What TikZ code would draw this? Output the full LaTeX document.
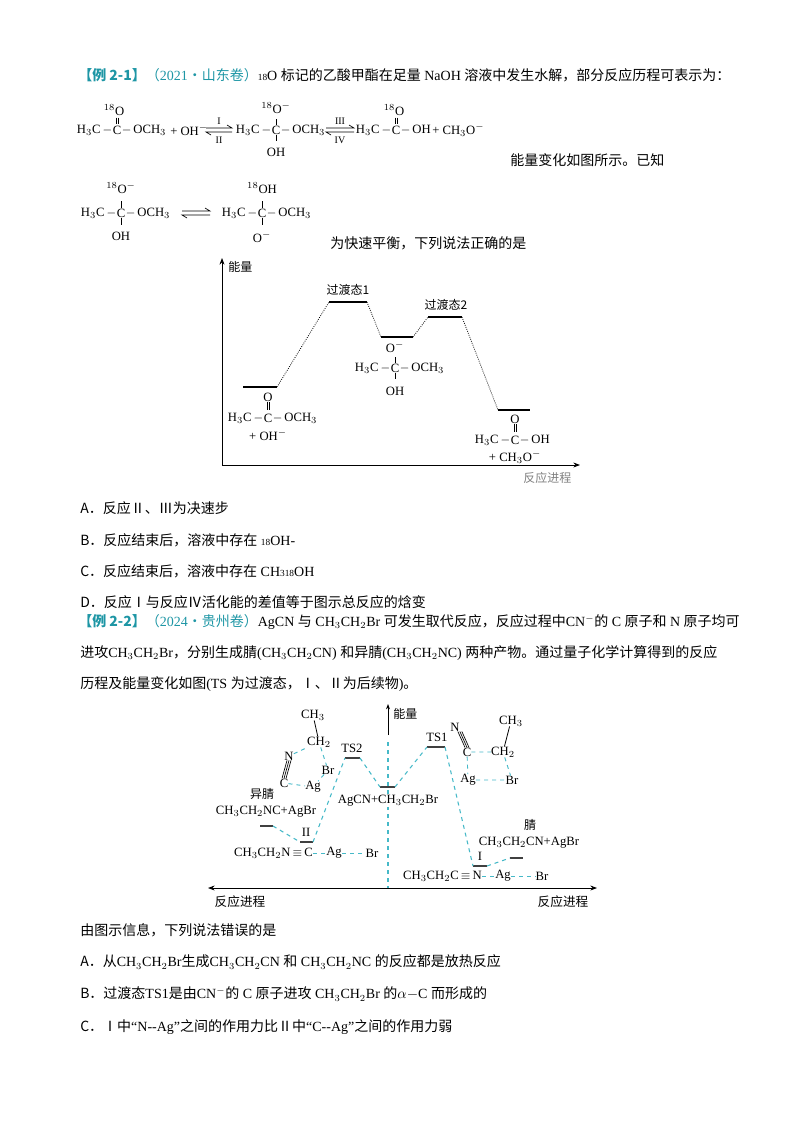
\documentclass[tikz,border=0pt]{standalone}
\usepackage{fontspec}
\setmainfont{Liberation Serif}
\newfontfamily\cjk{Noto Sans CJK SC}
\usetikzlibrary{calc,arrows.meta}
\definecolor{hdr}{RGB}{30,150,165}
\definecolor{dsh}{RGB}{70,185,200}
\newcommand\z[1]{{\cjk #1}}
\newcommand\sbs[1]{$_{#1}$}
\newcommand\chemC[5]{%
 \node[ch] (#1) at (#2) {C};
 \node[ch,anchor=east] (#1l) at (#1.west) {#3\,$-$};
 \node[ch,anchor=west] (#1r) at (#1.east) {$-$\,#4};
 \node[ch] (#1t) at ($(#1)+(0,-#5)$) {};
}
\begin{document}
\begin{tikzpicture}[x=0.75pt,y=-0.75pt,
 every node/.style={inner sep=0pt,font=\fontsize{10.5}{12}\selectfont},
 txt/.style={anchor=west},
 ch/.style={font=\fontsize{9.5}{11}\selectfont},
 sm/.style={font=\fontsize{7.5}{9}\selectfont},
 lev/.style={line width=1.1pt},
 dot/.style={densely dotted,line width=0.6pt},
 tl/.style={dsh,dashed,line width=0.8pt},
 tb/.style={dsh,dashed,line width=0.7pt}]
\useasboundingbox (0,0) rectangle (800,1132);
% ---------- Example 2-1 ----------
\node[txt] (h1) at (78,75) {\textcolor{hdr}{\textbf{\z{【例 2-1】}}\z{（}2021\z{·山东卷）}}{\fontsize{7}{8}\selectfont 18}O \z{标记的乙酸甲酯在足量} NaOH \z{溶液中发生水解，部分反应历程可表示为：}};
% scheme row 1
\chemC{a}{117,130}{H\sbs3C}{OCH\sbs3}{0}
\node[ch] (aO) at (114,110) {$^{18}$O};
\draw (116,117.5)--(116,124) (118.5,117.5)--(118.5,124);
\node[ch,anchor=west] (aplus) at (170,130) {+ OH$^-$};
\draw[line width=0.5pt] (206,128)--(232,128)--(227,125);
\draw[line width=0.5pt] (232,132)--(206,132)--(211,135);
\node[sm] (a1) at (219,121) {I}; \node[sm] (a2) at (219,140) {II};
\chemC{b}{276,130}{H\sbs3C}{OCH\sbs3}{0}
\node[ch] (bO) at (276,108) {$^{18}$O$^-$};
\draw (b.north)--++(0,-6) (b.south)--++(0,6);
\node[ch] (bOH) at (276,152) {OH};
\draw[line width=0.5pt] (326,128)--(354,128)--(349,125);
\draw[line width=0.5pt] (354,132)--(326,132)--(331,135);
\node[sm] (a3) at (340,121) {III}; \node[sm] (a4) at (340,140) {IV};
\chemC{c}{396,130}{H\sbs3C}{OH}{0}
\node[ch] (cO) at (394,110) {$^{18}$O};
\draw (395,117.5)--(395,124) (397.5,117.5)--(397.5,124);
\node[ch,anchor=west] (cplus) at (432,130) {+ CH$_3$O$^-$};
\node[txt] (t2) at (510,160) {\z{能量变化如图所示。已知}};
% scheme row 2
\chemC{d}{121,213}{H\sbs3C}{OCH\sbs3}{0}
\node[ch] (dO) at (121,188) {$^{18}$O$^-$};
\draw (d.north)--++(0,-7) (d.south)--++(0,7);
\node[ch] (dOH) at (121,236) {OH};
\draw[line width=0.5pt] (182,211)--(210,211)--(205,208);
\draw[line width=0.5pt] (210,215)--(182,215)--(187,218);
\chemC{e}{262,213}{H\sbs3C}{OCH\sbs3}{0}
\node[ch] (eO) at (262,188) {$^{18}$OH};
\draw (e.north)--++(0,-7) (e.south)--++(0,7);
\node[ch] (eOm) at (262,237) {O$^-$};
\node[txt] (t3) at (330,243) {\z{为快速平衡，下列说法正确的是}};
% diagram 1
\draw[-{Stealth[length=5pt]},line width=0.6pt] (222,465) -- (222,258);
\draw[-{Stealth[length=5pt]},line width=0.6pt] (222,465) -- (580,465);
\node[txt,font=\cjk\fontsize{9}{10}\selectfont] (e1) at (228,267) {能量};
\node[txt,font=\cjk\fontsize{9}{10}\selectfont,text=gray] (p1) at (523,478) {反应进程};
\draw[lev] (243,387)--(277,387); \coordinate (R1) at (243,387); \coordinate (R2) at (277,387);
\draw[lev] (329,302)--(367,302); \coordinate (T1a) at (329,302); \coordinate (T1b) at (367,302);
\draw[lev] (381,337)--(413,337); \coordinate (M1) at (381,337); \coordinate (M2) at (413,337);
\draw[lev] (428,317)--(462,317); \coordinate (T2a) at (428,317); \coordinate (T2b) at (462,317);
\draw[lev] (498,410)--(530,410); \coordinate (P1) at (498,410); \coordinate (P2) at (530,410);
\draw[dot] (R2)--(T1a) (T1b)--(M1) (M2)--(T2a) (T2b)--(P1);
\node[font=\cjk\fontsize{9}{10}\selectfont] (l1) at (348,290) {过渡态1};
\node[font=\cjk\fontsize{9}{10}\selectfont] (l2) at (446,305) {过渡态2};
\chemC{f}{268,418}{H\sbs3C}{OCH\sbs3}{0}
\node[ch] (fO) at (268,397) {O};
\draw (267,402)--(267,410) (269.5,402)--(269.5,410);
\node[ch] (fp) at (268,435) {+ OH$^-$};
\chemC{g}{395,368}{H\sbs3C}{OCH\sbs3}{0}
\node[ch] (gO) at (395,347) {O$^-$};
\draw (g.north)--++(0,-6) (g.south)--++(0,6);
\node[ch] (gOH) at (395,391) {OH};
\chemC{h}{515,440}{H\sbs3C}{OH}{0}
\node[ch] (hO) at (515,419) {O};
\draw (514,424)--(514,432) (516.5,424)--(516.5,432);
\node[ch] (hp) at (515,457) {+ CH$_3$O$^-$};
% options
\node[txt] (A1) at (80,508) {\z{A．反应Ⅱ、Ⅲ为决速步}};
\node[txt] (B1) at (80,540) {\z{B．反应结束后，溶液中存在} {\fontsize{7}{8}\selectfont 18}OH-};
\node[txt] (C1) at (80,571) {\z{C．反应结束后，溶液中存在} CH{\fontsize{7}{8}\selectfont 318}OH};
\node[txt] (D1) at (80,602) {\z{D．反应Ⅰ与反应Ⅳ活化能的差值等于图示总反应的焓变}};
% ---------- Example 2-2 ----------
\node[txt] (h2) at (78,622) {\textcolor{hdr}{\textbf{\z{【例 2-2】}}\z{（}2024\z{·贵州卷）}}AgCN \z{与} CH$_3$CH$_2$Br \z{可发生取代反应，反应过程中}CN$^-$\z{的} C \z{原子和} N \z{原子均可}};
\node[txt] (h3) at (80,653) {\z{进攻}CH$_3$CH$_2$Br\z{，分别生成腈}(CH$_3$CH$_2$CN) \z{和异腈}(CH$_3$CH$_2$NC) \z{两种产物。通过量子化学计算得到的反应}};
\node[txt] (h4) at (80,684) {\z{历程及能量变化如图}(TS \z{为过渡态，Ⅰ、Ⅱ为后续物})\z{。}};
% diagram 2
\draw[{Stealth[length=5pt]}-{Stealth[length=5pt]},line width=0.6pt] (208,888)--(597,888);
\draw[tl] (388,742)--(388,888);
\draw[-{Stealth[length=4pt]},line width=0.7pt] (388,735)--(388,704);
\node[txt,font=\cjk\fontsize{9}{10}\selectfont] (e2) at (393,714) {能量};
\node[font=\cjk\fontsize{9.5}{10}\selectfont] (p2) at (240,902) {反应进程};
\node[font=\cjk\fontsize{9.5}{10}\selectfont] (p3) at (563,902) {反应进程};
\coordinate (L1) at (260,826); \coordinate (L2) at (273,826);
\coordinate (II1) at (300,842); \coordinate (II2) at (313,842);
\coordinate (S1) at (345,758); \coordinate (S2) at (360,758);
\coordinate (C1a) at (380,787); \coordinate (C2a) at (395,787);
\coordinate (U1) at (427,747); \coordinate (U2) at (445,747);
\coordinate (I1) at (473,866); \coordinate (I2) at (487,866);
\coordinate (N1) at (510,858); \coordinate (N2) at (523,858);
\foreach \a/\b in {L1/L2,II1/II2,S1/S2,C1a/C2a,U1/U2,I1/I2,N1/N2} \draw[line width=0.8pt,black!75] (\a)--(\b);
\draw[tl] (L2)--(II1) (II2)--(S1) (S2)--(C1a) (C2a)--(U1) (U2)--(I1) (I2)--(N1);
\node[ch] (ts2) at (352,748) {TS2};
\node[ch] (ts1) at (437,737) {TS1};
\node[ch,fill=white,inner sep=0.5pt] (mid) at (388,801) {AgCN+CH$_3$CH$_2$Br};
\node[ch] (n2) at (306,832) {II};
\node[ch] (n1) at (480,856) {I};
\node[font=\cjk\fontsize{9}{10}\selectfont] (yj) at (262,794) {异腈};
\node[ch] (pr2) at (266,812) {CH$_3$CH$_2$NC+AgBr};
\node[font=\cjk\fontsize{9}{10}\selectfont] (jj) at (530,825) {腈};
\node[ch] (pr1) at (529,843) {CH$_3$CH$_2$CN+AgBr};
% II complex
\node[ch,anchor=east] (iiN) at (313,853) {CH$_3$CH$_2$N\,$\equiv$\,C};
\node[ch] (iiAg) at (334,853) {Ag};
\node[ch] (iiBr) at (372,853) {Br};
\draw[tb] (iiN)--(iiAg) (iiAg)--(iiBr);
% I complex
\node[ch,anchor=east] (iN) at (482,876) {CH$_3$CH$_2$C\,$\equiv$\,N};
\node[ch] (iAg) at (503,876) {Ag};
\node[ch] (iBr) at (542,876) {Br};
\draw[tb] (iN)--(iAg) (iAg)--(iBr);
% TS2 structure
\node[ch] (s2a) at (313,715) {CH$_3$};
\node[ch] (s2b) at (319,742) {CH$_2$};
\node[ch] (s2N) at (289,756) {N};
\node[ch] (s2Br) at (328,770) {Br};
\node[ch] (s2C) at (284,783) {C};
\node[ch] (s2Ag) at (313,787) {Ag};
\draw[line width=0.6pt] (s2a)--(s2b);
\draw[tb] (s2N)--(s2b) (s2b)--(s2Br) (s2Br)--(s2Ag) (s2C)--(s2Ag);
\draw[line width=0.5pt] ([xshift=-1.5pt]s2N.south)--([xshift=-1.5pt]s2C.north) (s2N.south)--(s2C.north) ([xshift=1.5pt]s2N.south)--([xshift=1.5pt]s2C.north);
% TS1 structure
\node[ch] (s1N) at (455,727) {N};
\node[ch] (s1C) at (467,752) {C};
\node[ch] (s1b) at (503,752) {CH$_2$};
\node[ch] (s1a) at (511,721) {CH$_3$};
\node[ch] (s1Ag) at (468,780) {Ag};
\node[ch] (s1Br) at (512,780) {Br};
\draw[line width=0.6pt] (s1a)--(s1b);
\draw[tb] (s1C)--(s1b) (s1b)--(s1Br) (s1C)--(s1Ag) (s1Ag)--(s1Br);
\draw[line width=0.5pt] ([xshift=-1.5pt]s1N.south east)--([xshift=-1.5pt]s1C.north) (s1N.south east)--(s1C.north) ([xshift=1.5pt]s1N.south east)--([xshift=1.5pt]s1C.north);
% questions
\node[txt] (q) at (80,930) {\z{由图示信息，下列说法错误的是}};
\node[txt] (qa) at (80,962) {\z{A．从}CH$_3$CH$_2$Br\z{生成}CH$_3$CH$_2$CN \z{和} CH$_3$CH$_2$NC \z{的反应都是放热反应}};
\node[txt] (qb) at (80,994) {\z{B．过渡态}TS1\z{是由}CN$^-$\z{的} C \z{原子进攻} CH$_3$CH$_2$Br \z{的}$\alpha-$C \z{而形成的}};
\node[txt] (qc) at (80,1027) {\z{C．Ⅰ中}“N-{}-Ag”\z{之间的作用力比Ⅱ中}“C-{}-Ag”\z{之间的作用力弱}};
\end{tikzpicture}
\end{document}
